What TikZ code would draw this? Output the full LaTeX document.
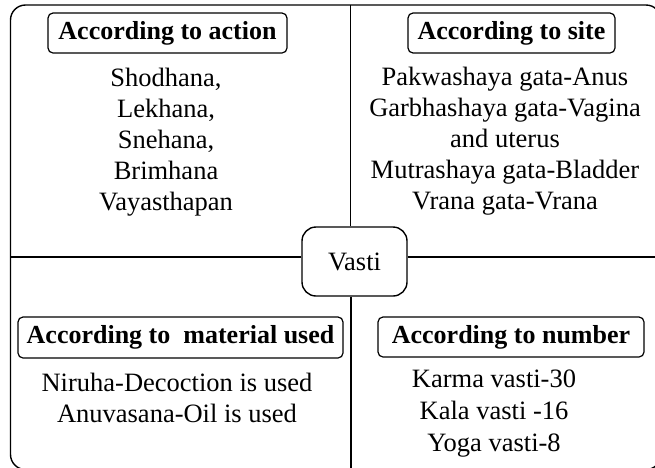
\documentclass[tikz,border=0pt]{standalone}
\usepackage{fontspec}
\setmainfont{Liberation Serif}
\begin{document}
\begin{tikzpicture}[x=1pt,y=-1pt,
  line/.style={line width=1.4pt, black},
  headbox/.style={draw, line width=1.2pt, rounded corners=5pt, inner sep=0pt,
    font=\fontsize{26}{31}\selectfont\bfseries, align=center},
  listtext/.style={inner sep=0pt, align=center, font=\fontsize{26.5}{31}\selectfont},
  hubbox/.style={draw, line width=1.4pt, rounded corners=14pt, inner sep=0pt,
    minimum width=105pt, minimum height=69pt, font=\fontsize{26.5}{31}\selectfont}]
\useasboundingbox (0,0) rectangle (655,467);
\clip (0,0) rectangle (655,467);

% outer frame
\draw[line, rounded corners=15pt] (10.5,5) rectangle (661,469.5);

% centre node
\node[hubbox] (vasti) at (354.5,261.5) {Vasti};

% ends of the dividing lines
\coordinate (ntop) at (350.5,5);
\coordinate (nbot) at (351,470);
\coordinate (wend) at (10.5,257);
\coordinate (eend) at (665,257);

\draw[line] (vasti.north -| ntop) -- (ntop);
\draw[line] (vasti.south -| nbot) -- (nbot);
\draw[line] (vasti.west |- wend) -- (wend);
\draw[line] (vasti.east |- eend) -- (eend);

% quadrant headings
\node[headbox, minimum width=239pt, minimum height=40pt] (action) at (167.5,33) {According to action};
\node[headbox, minimum width=207pt, minimum height=40pt] (site) at (511.5,33) {According to site};
\node[headbox, minimum width=325pt, minimum height=41pt] (material) at (180.5,337.5) {According to\ \ material used};
\node[headbox, minimum width=266pt, minimum height=40pt] (number) at (511,337) {According to number};

% quadrant contents
\node[listtext] (actionlist) at (166,141.8)
  {\strut Shodhana,\\Lekhana,\\Snehana,\\Brimhana\\Vayasthapan\strut};
\node[listtext] (sitelist) at (505,140.8)
  {\strut Pakwashaya gata-Anus\\Garbhashaya gata-Vagina\\and uterus\\Mutrashaya gata-Bladder\\Vrana gata-Vrana\strut};
\node[listtext] (materiallist) at (177,400.3)
  {\strut Niruha-Decoction is used\\Anuvasana-Oil is used\strut};
\node[listtext, font=\fontsize{26.5}{32}\selectfont] (numberlist) at (494,412.6)
  {\strut Karma vasti-30\\Kala vasti -16\\Yoga vasti-8\strut};
\end{tikzpicture}
\end{document}
